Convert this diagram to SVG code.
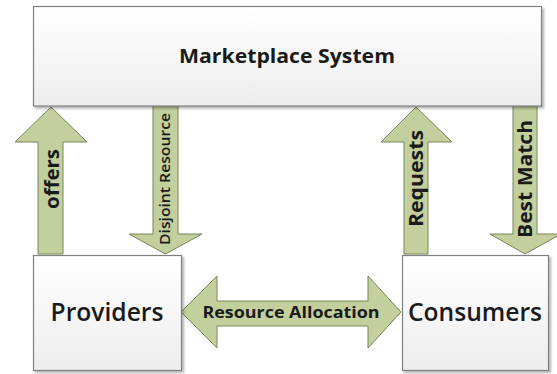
<svg xmlns="http://www.w3.org/2000/svg" width="557" height="374" viewBox="0 0 557 374">
<defs>
<linearGradient id="boxgrad" x1="0" y1="0" x2="0" y2="1">
<stop offset="0" stop-color="#ffffff"/>
<stop offset="1" stop-color="#ededed"/>
</linearGradient>
<filter id="shadow" x="-10%" y="-10%" width="120%" height="120%">
<feDropShadow dx="2" dy="2" stdDeviation="1" flood-color="#000" flood-opacity="0.3"/>
</filter>
</defs>
<style>
.box{fill:url(#boxgrad);stroke:#7f7f7f;stroke-width:1.2;filter:url(#shadow)}
.arrow{fill:#c3cf9d;stroke:#76845a;stroke-width:1}
.t{font-family:"Open Sans","Liberation Sans",sans-serif;fill:#1a1a1a}
.b{font-weight:bold}
.m{font-weight:600}
</style>
<rect width="557" height="374" fill="#ffffff"/>
<g id="connectors">
<g id="offers">
<polygon class="arrow" points="51,107 87,142 63,142 63,254 38,254 38,142 15,142"/>
<text class="t b" font-size="20" text-anchor="middle" textLength="60" lengthAdjust="spacingAndGlyphs" transform="translate(59,179) rotate(-90)">offers</text>
</g>
<g id="disjoint">
<polygon class="arrow" points="153,106 178,106 178,234 202,234 165.5,254 129,234 153,234"/>
<text class="t m" font-size="15" text-anchor="middle" textLength="132" lengthAdjust="spacingAndGlyphs" transform="translate(170,179) rotate(-90)">Disjoint Resource</text>
</g>
<g id="requests">
<polygon class="arrow" points="416,107 452,142 428,142 428,254 404,254 404,142 381,142"/>
<text class="t b" font-size="20" text-anchor="middle" textLength="97" lengthAdjust="spacingAndGlyphs" transform="translate(423,178.5) rotate(-90)">Requests</text>
</g>
<g id="bestmatch">
<polygon class="arrow" points="513,106 537,106 537,234 561,234 525,254 490,234 513,234"/>
<text class="t b" font-size="20" text-anchor="middle" textLength="118" lengthAdjust="spacingAndGlyphs" transform="translate(532,179) rotate(-90)">Best Match</text>
</g>
<g id="allocation">
<polygon class="arrow" points="181,312 217,276 217,301 368,301 368,276 401,312 368,348 368,326 217,326 217,348"/>
<text class="t b" x="291" y="318" font-size="16" text-anchor="middle" textLength="177" lengthAdjust="spacingAndGlyphs">Resource Allocation</text>
</g>
</g>
<g id="marketplace">
<rect class="box" x="33.5" y="6.5" width="508" height="99.5"/>
<text class="t b" x="287" y="63" font-size="20" text-anchor="middle" textLength="216" lengthAdjust="spacingAndGlyphs">Marketplace System</text>
</g>
<g id="providers">
<rect class="box" x="33.5" y="255.5" width="148" height="115"/>
<text class="t m" x="107" y="321" font-size="25" text-anchor="middle" textLength="113" lengthAdjust="spacingAndGlyphs">Providers</text>
</g>
<g id="consumers">
<rect class="box" x="402.5" y="255.5" width="146" height="115"/>
<text class="t m" x="475" y="321" font-size="25" text-anchor="middle" textLength="134" lengthAdjust="spacingAndGlyphs">Consumers</text>
</g>
</svg>
